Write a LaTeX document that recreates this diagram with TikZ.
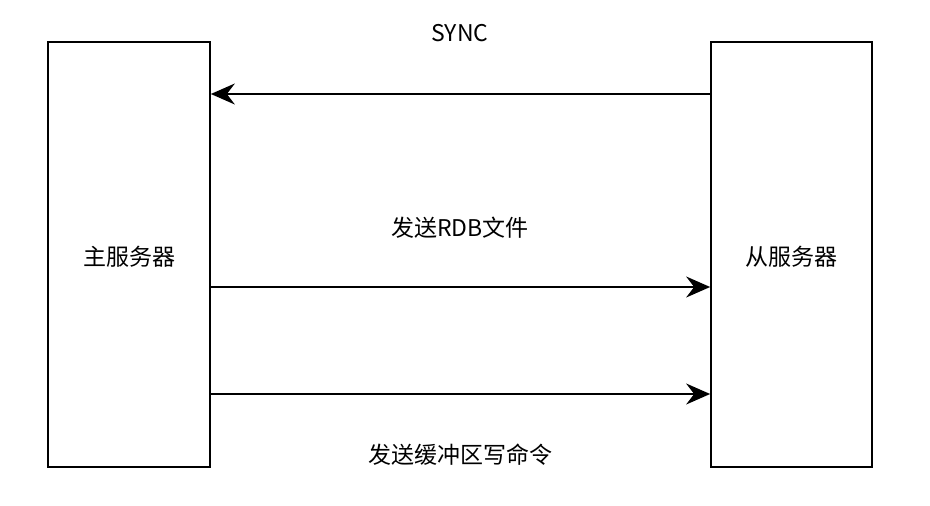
\documentclass[tikz,border=0pt]{standalone}
\usepackage{fontspec}
\setmainfont{Noto Sans CJK SC}
\usetikzlibrary{arrows.meta}
\begin{document}
\begin{tikzpicture}[x=1pt,y=-1pt,
  server/.style={draw,line width=1.7pt,inner sep=0pt},
  msg/.style={-{Stealth[length=24pt,width=21pt,inset=8pt]},line width=1.7pt},
  lbl/.style={font=\fontsize{23}{27}\selectfont,inner sep=0pt}]
\useasboundingbox (0,0) rectangle (930,506);
\node[server,minimum width=162pt,minimum height=425pt] (master) at (129,254.5) {};
\node[server,minimum width=161pt,minimum height=425pt] (slave) at (791.5,254.5) {};
\node[lbl] (mt) at (129,257) {主服务器};
\node[lbl] (st) at (791.5,257) {从服务器};
\coordinate (s1) at (slave.west |- 0,94);
\coordinate (m1) at (master.east |- 0,94);
\coordinate (m2) at (master.east |- 0,287);
\coordinate (s2) at (slave.west |- 0,287);
\coordinate (m3) at (master.east |- 0,394);
\coordinate (s3) at (slave.west |- 0,394);
\draw[msg] (s1) -- (m1);
\draw[msg] (m2) -- (s2);
\draw[msg] (m3) -- (s3);
\node[lbl] (l1) at (460,33) {SYNC};
\node[lbl] (l2) at (460,228) {发送RDB文件};
\node[lbl] (l3) at (460,455) {发送缓冲区写命令};
\end{tikzpicture}
\end{document}
